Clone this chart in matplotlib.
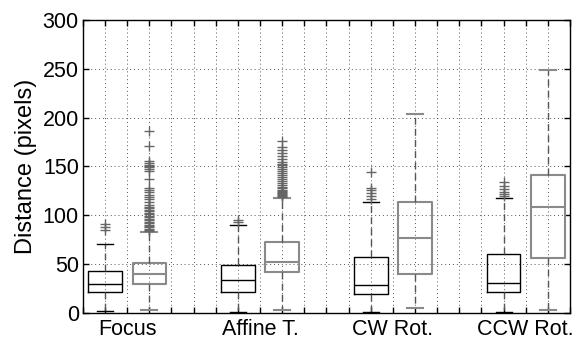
import matplotlib
matplotlib.use("Agg")
import matplotlib.pyplot as plt

groups = ["Focus", "Affine T.", "CW Rot.", "CCW Rot."]

# per box: [black, gray] for each group
q1 = [21, 30, 21, 42, 19.5, 39.5, 21, 56]
med = [30, 40, 34, 52.5, 29, 77, 31, 108]
q3 = [42.5, 51, 49, 72.5, 57, 114, 60, 141]
whislo = [2, 3, 1, 3, 1, 5, 1, 3]
whishi = [71, 83, 90, 118, 114, 204, 118, 249]
fliers = [
    [85, 88, 91],
    [186, 171, 156, 154, 152, 150, 149, 147, 145, 137, 128, 126, 124, 121, 119,
     117, 114, 111, 109, 107, 105, 104, 102, 101, 99, 98, 96, 95, 93, 92, 90,
     89, 88, 86, 85, 84],
    [93, 95],
    [176, 170, 167, 164, 161, 158, 155, 153, 151, 149, 147, 145, 143, 141, 139,
     137, 135, 133, 131, 129, 128, 126, 125, 124, 123, 122, 121, 120, 119],
    [117, 120, 123, 126, 128, 144],
    [],
    [120, 122, 124, 127, 130, 134],
    [],
]
positions = [1, 2, 4, 5, 7, 8, 10, 11]
colors = ["black", "#8a8a8a"] * 4

plt.rcParams["font.family"] = ["Liberation Sans", "DejaVu Sans"]

fig = plt.figure(figsize=(5.84, 3.38), dpi=100)
ax = fig.add_axes([0.142, 0.074, 0.834, 0.867])

for i, pos in enumerate(positions):
    st = dict(q1=q1[i], med=med[i], q3=q3[i], whislo=whislo[i],
              whishi=whishi[i], fliers=fliers[i])
    c = colors[i]
    lw = 1.0 if c == "black" else 1.5
    ax.bxp([st], positions=[pos], widths=0.76, showfliers=True,
           boxprops=dict(color=c, linewidth=lw),
           medianprops=dict(color=c, linewidth=lw),
           whiskerprops=dict(color="#555555", linestyle=(0, (5, 3)), linewidth=1.0),
           capprops=dict(color=c, linewidth=lw),
           capwidths=0.36,
           flierprops=dict(marker="+", markeredgecolor="#666666",
                           markersize=7, linestyle="none", markeredgewidth=1.0),
           manage_ticks=False)

ax.set_xlim(0.5, 11.5)
ax.set_ylim(0, 300)
ax.set_yticks(range(0, 301, 50))
xt = [0.5 + 0.5 * k for k in range(23)]
labels = [""] * len(xt)
for g, c in zip(groups, [1.5, 4.5, 7.5, 10.5]):
    labels[xt.index(c)] = g
ax.set_xticks(xt)
ax.set_xticklabels(labels, fontsize=15.5)
ax.tick_params(axis="y", labelsize=15.5, pad=3)
ax.tick_params(axis="x", pad=4)
ax.tick_params(direction="in", top=True, right=True, length=4, width=1)
ax.grid(True, linestyle=(0, (1, 3)), color="#555555", linewidth=0.7)
ax.set_axisbelow(True)
ax.set_ylabel("Distance (pixels)", fontsize=17, labelpad=4)
for s in ax.spines.values():
    s.set_linewidth(1.0)

fig.savefig("out.png", dpi=100)
